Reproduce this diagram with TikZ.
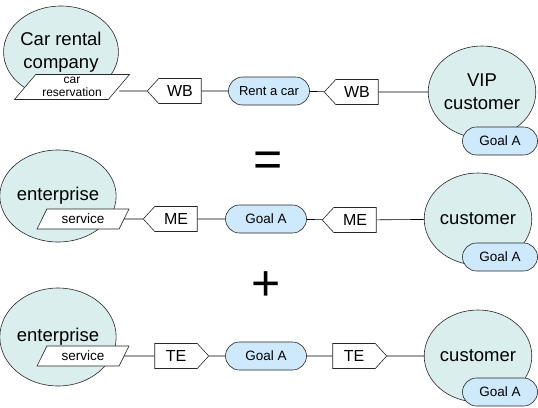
\documentclass[tikz,border=0pt]{standalone}
\usepackage{fontspec}
\setmainfont{Liberation Sans}
\usetikzlibrary{shapes.geometric, shapes.symbols, shapes.misc, positioning}
\definecolor{actorfill}{RGB}{219, 238, 238}
\definecolor{goalfill}{RGB}{206, 232, 252}

\begin{document}
\begin{tikzpicture}[
        x=1pt, y=-1pt,
        line width=0.6pt,
        actor/.style={
            ellipse,
            draw=black!85,
            fill=actorfill,
            inner sep=0pt,
            minimum width=104pt,
            minimum height=92pt,
            align=center,
            font=\fontsize{18.5}{23}\selectfont
        },
        offer/.style={
            trapezium,
            trapezium left angle=45,
            trapezium right angle=135,
            trapezium stretches body,
            draw=black!85,
            fill=white,
            inner sep=0pt,
            minimum width=92pt,
            minimum height=20pt,
            align=center,
            font=\fontsize{13.5}{14}\selectfont
        },
        goal/.style={
            rounded rectangle,
            draw=black!85,
            fill=goalfill,
            inner sep=0pt,
            minimum width=81pt,
            minimum height=28pt,
            font=\fontsize{13.5}{14}\selectfont
        },
        tag/.style={
            signal,
            signal pointer angle=95,
            draw=black!85,
            fill=white,
            inner sep=0pt,
            minimum width=54pt,
            minimum height=25pt,
            font=\fontsize{16}{18}\selectfont
        },
        bigsign/.style={font=\fontsize{50}{50}\selectfont, inner sep=0pt}
    ]
        \useasboundingbox (0,0) rectangle (538,407);

        % WB row
        \node[actor] (crc) at (61,52) {Car rental\\company};
        \node[actor, minimum width=106pt] (vip) at (482,92) {VIP\\customer};
        \node[offer, trapezium left angle=42, trapezium right angle=138,
            minimum width=115pt, minimum height=25pt,
            font=\fontsize{12}{12.5}\selectfont] (res) at (72,87) {car\\reservation};
        \node[tag, signal to=west] (wb1) at (180,91) {WB};
        \node[goal, font=\fontsize{13}{14}\selectfont] (rent) at (269,91) {Rent a car};
        \node[tag, signal to=west] (wb2) at (357,92) {WB};
        \node[goal, minimum width=75pt] (ga1) at (500,141) {Goal A};
        \draw (res.east |- wb1) -- (wb1);
        \draw (wb1) -- (rent);
        \draw (rent) -- (wb2);
        \draw (wb2) -- (vip);

        \node[bigsign] (eq) at (268,164) {=};

        % ME row
        \node[actor] (ent2) at (58,196) {enterprise};
        \node[actor] (cust2) at (478,219) {customer};
        \node[offer] (svc2) at (83,219) {service};
        \node[tag, signal to=west] (me1) at (176,219) {ME};
        \node[goal] (ga2) at (266,219) {Goal A};
        \node[tag, signal to=west] (me2) at (355,220) {ME};
        \node[goal, minimum width=75pt] (gc2) at (500,257) {Goal A};
        \draw (svc2) -- (me1);
        \draw (me1) -- (ga2);
        \draw (ga2) -- (me2);
        \draw (me2) -- (cust2);

        \node[bigsign] (plus) at (266,286) {+};

        % TE row
        \node[actor, minimum height=98pt] (ent3) at (58,337) {enterprise};
        \node[actor] (cust3) at (478,356) {customer};
        \node[offer] (svc3) at (83,356) {service};
        \node[tag, signal to=east] (te1) at (176,356) {TE};
        \node[goal] (ga3) at (266,356) {Goal A};
        \node[tag, signal to=east] (te2) at (354,356) {TE};
        \node[goal, minimum width=75pt] (gc3) at (500,392) {Goal A};
        \draw (svc3) -- (te1);
        \draw (te1) -- (ga3);
        \draw (ga3) -- (te2);
        \draw (te2) -- (cust3);
    \end{tikzpicture}
\end{document}
